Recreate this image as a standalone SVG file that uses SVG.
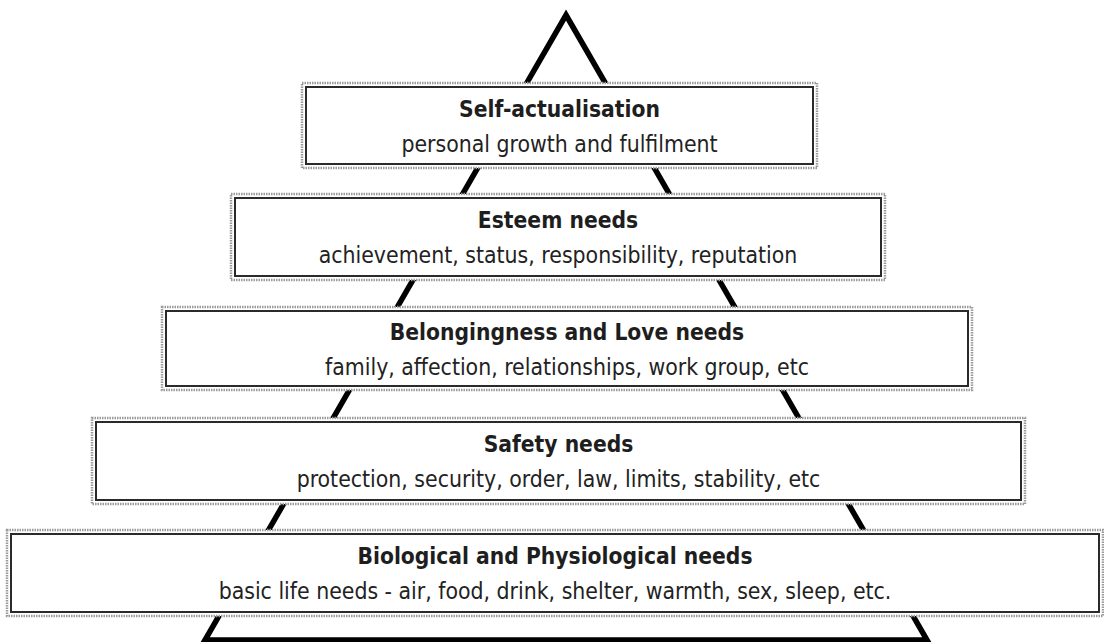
<svg xmlns="http://www.w3.org/2000/svg" width="1104" height="642" viewBox="0 0 1104 642">
  <style>
    .outer { fill: #ffffff; stroke: #9a9a9a; stroke-width: 2.5; stroke-dasharray: 1.5 1; }
    .inner { fill: #ffffff; stroke: #2a2a2a; stroke-width: 2; }
    .title { font-family: "DejaVu Sans Condensed", "DejaVu Sans", sans-serif; font-weight: bold; font-size: 22.6px; fill: #1e1e1e; text-anchor: middle; }
    .sub { font-family: "DejaVu Sans Condensed", "DejaVu Sans", sans-serif; font-size: 22.8px; fill: #222222; text-anchor: middle; }
    .pyr { fill: none; stroke: #000000; stroke-width: 5.5; stroke-linejoin: miter; }
  </style>
  <rect width="1104" height="642" fill="#ffffff"/>
  <g id="connectors">
    <path class="pyr" d="M566,15 L927,640 L205,640 Z"/>
  </g>
  <g id="self-actualisation">
    <rect class="outer" x="302" y="83" width="515" height="85"/>
    <rect class="inner" x="306" y="87" width="507" height="77"/>
    <text class="title" x="559.5" y="117">Self-actualisation</text>
    <text class="sub" x="559.5" y="152">personal growth and fulfilment</text>
  </g>
  <g id="esteem">
    <rect class="outer" x="231" y="194" width="654" height="86"/>
    <rect class="inner" x="235" y="198" width="646" height="78"/>
    <text class="title" x="558" y="228">Esteem needs</text>
    <text class="sub" x="558" y="263">achievement, status, responsibility, reputation</text>
  </g>
  <g id="belongingness">
    <rect class="outer" x="162" y="307" width="810" height="83"/>
    <rect class="inner" x="166" y="311" width="802" height="75"/>
    <text class="title" x="567" y="340">Belongingness and Love needs</text>
    <text class="sub" x="567" y="375">family, affection, relationships, work group, etc</text>
  </g>
  <g id="safety">
    <rect class="outer" x="92" y="418" width="933" height="86"/>
    <rect class="inner" x="96" y="422" width="925" height="78"/>
    <text class="title" x="558.5" y="452">Safety needs</text>
    <text class="sub" x="558.5" y="487">protection, security, order, law, limits, stability, etc</text>
  </g>
  <g id="biological">
    <rect class="outer" x="7" y="530" width="1096" height="86"/>
    <rect class="inner" x="11" y="534" width="1088" height="78"/>
    <text class="title" x="555" y="564">Biological and Physiological needs</text>
    <text class="sub" x="555" y="599">basic life needs - air, food, drink, shelter, warmth, sex, sleep, etc.</text>
  </g>
</svg>
